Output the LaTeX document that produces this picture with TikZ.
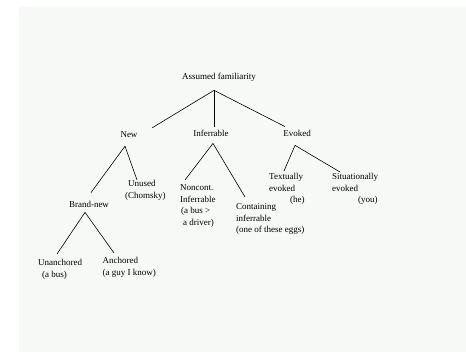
\documentclass[tikz,border=0pt]{standalone}
\usepackage{fontspec}
\setmainfont{Liberation Serif}
\definecolor{paper}{RGB}{246,249,246}
\tikzset{
 lbl/.style={inner sep=1pt,font=\fontsize{9}{11.5}\selectfont},
 lbls/.style={inner sep=0pt,align=left,anchor=north west,font=\fontsize{9}{11.5}\selectfont},
 branch/.style={line width=0.6pt}
}
\begin{document}
\begin{tikzpicture}[x=1pt,y=-1pt]
 \useasboundingbox (0,0) rectangle (466,352);
 \fill[paper](19,7) rectangle (466,352);
 \node[lbl] (af) at (219,77) {Assumed familiarity};
 \node[lbl] (new) at (129,135) {New};
 \node[lbl] (inf) at (211,133) {Inferrable};
 \node[lbl] (evo) at (297,133) {Evoked};
 \node[lbl] (brand) at (89,204) {Brand-new};
 \node[lbls] (unused) at (125,180.5) {\hspace*{3pt}Unused\\(Chomsky)};
 \node[lbls] (nonc) at (180,184.5) {Noncont.\\Inferrable\\\hspace*{1pt}(a bus >\\\hspace*{3pt}a driver)};
 \node[lbls] (cont) at (236,203.5) {Containing\\inferrable\\(one of these eggs)};
 \node[lbls] (text) at (269,173.5) {Textually\\evoked\\\hspace*{21pt}(he)};
 \node[lbls] (sit) at (332,173.5) {Situationally\\evoked\\\hspace*{26pt}(you)};
 \node[lbls] (unanch) at (38,259.5) {Unanchored\\\hspace*{4pt}(a bus)};
 \node[lbls] (anch) at (102.5,257.5) {Anchored\\(a guy I know)};
 \draw[branch]([xshift=-5pt,yshift=-8pt]af.south)--([xshift=13.5pt,yshift=3pt]new.north east);
 \draw[branch]([xshift=-5pt,yshift=-8pt]af.south)--([xshift=3pt,yshift=2pt]inf.north);
 \draw[branch]([xshift=-5pt,yshift=-8pt]af.south)--([xshift=3pt,yshift=2pt]evo.north west);
 \draw[branch]([xshift=-4pt,yshift=-7pt]new.south)--([xshift=2pt,yshift=7pt]brand.north);
 \draw[branch]([xshift=-4pt,yshift=-7pt]new.south)--([xshift=12pt,yshift=0.5pt]unused.north west);
 \draw[branch]([xshift=2pt,yshift=-6pt]inf.south)--([xshift=5pt,yshift=4.5pt]nonc.north west);
 \draw[branch]([xshift=2pt,yshift=-6pt]inf.south)--([xshift=9pt,yshift=6.5pt]cont.north west);
 \draw[branch]([xshift=-2pt,yshift=-8pt]evo.south)--([xshift=15pt,yshift=2.5pt]text.north west);
 \draw[branch]([xshift=-2pt,yshift=-8pt]evo.south)--([xshift=8pt,yshift=1.5pt]sit.north west);
 \draw[branch]([xshift=-4pt,yshift=-4pt]brand.south)--([xshift=19pt,yshift=5.5pt]unanch.north west);
 \draw[branch]([xshift=-4pt,yshift=-4pt]brand.south)--([xshift=11.5pt,yshift=4.5pt]anch.north west);
\end{tikzpicture}
\end{document}
